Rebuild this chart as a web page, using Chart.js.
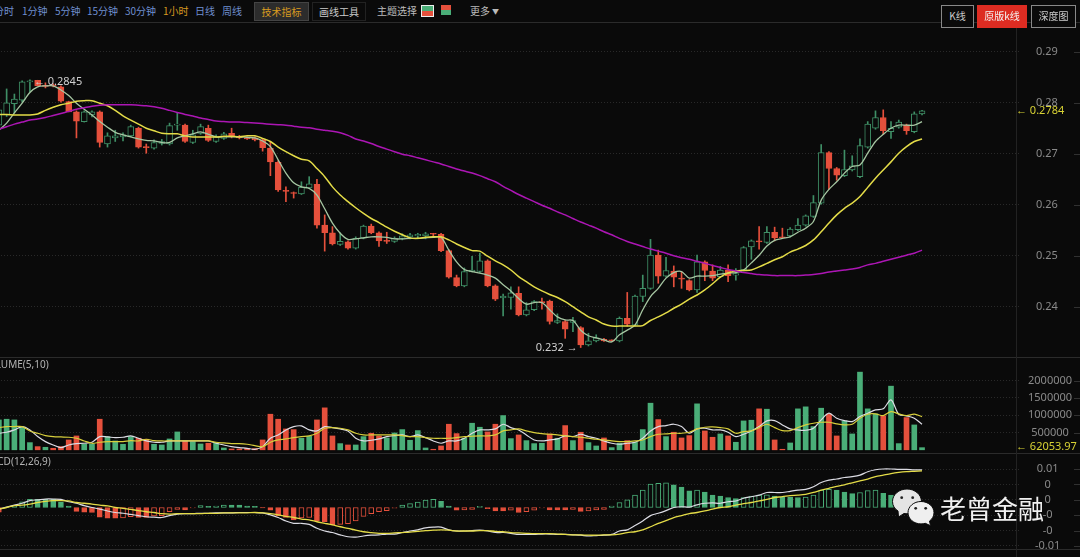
<!DOCTYPE html>
<html>
<head>
<meta charset="utf-8">
<title>K线</title>
<script src="https://cdn.jsdelivr.net/npm/chart.js@4/dist/chart.umd.min.js"></script>
<style>
html, body { margin: 0; padding: 0; width: 1080px; height: 557px; overflow: hidden; background: #0a0a0a; }
body { position: relative; font-family: "Noto Sans CJK SC", "Noto Sans", sans-serif; color: #bbb; }
canvas { position: absolute; left: -5px; }
.t { position: absolute; top: 4px; font-size: 10px; line-height: 14px; white-space: nowrap; color: #6f8fd0; }
.btn { position: absolute; box-sizing: border-box; font-size: 10px; text-align: center; white-space: nowrap; z-index: 6; }
.hline { position: absolute; left: 0; width: 1080px; height: 1px; background: #2b2b2b; }
.panel { position: absolute; font-size: 10px; line-height: 12px; color: #b5b5b5; font-family: "Noto Sans", sans-serif; white-space: nowrap; }
.mark { position: absolute; left: 940px; top: 491px; font-size: 26px; line-height: 34px; color: #f0f0f0; white-space: nowrap; z-index: 5; }
</style>
</head>
<body>
<div class="t" style="left:-6px">分时</div>
<div class="t" style="left:22px">1分钟</div>
<div class="t" style="left:55px">5分钟</div>
<div class="t" style="left:87px">15分钟</div>
<div class="t" style="left:125px">30分钟</div>
<div class="t" style="left:163px;color:#d89a20">1小时</div>
<div class="t" style="left:195px">日线</div>
<div class="t" style="left:222px">周线</div>
<div class="btn" style="left:254px;top:2px;width:55px;height:19px;line-height:17px;background:#2c2c2c;border:1px solid #444;color:#d89a20">技术指标</div>
<div class="btn" style="left:312px;top:2px;width:54px;height:19px;line-height:17px;border:1px solid #222;color:#ccc">画线工具</div>
<div class="t" style="left:377px;color:#bbb">主题选择</div>
<div style="position:absolute;left:421px;top:5px;width:11px;height:10px;border:1px solid #eee;background:linear-gradient(#4aae78 50%,#e5503c 50%)"></div>
<div style="position:absolute;left:441px;top:5px;width:10px;height:10px;background:linear-gradient(#e5503c 50%,#4aae78 50%)"></div>
<div class="t" style="left:470px;color:#bbb">更多</div>
<div class="t" style="left:492px;font-size:7px;color:#bbb">▼</div>
<div class="btn" style="left:941px;top:5px;width:33px;height:23px;line-height:20px;border:1px solid #888;color:#ccc;background:#0a0a0a">K线</div>
<div class="btn" style="left:977px;top:5px;width:50px;height:23px;line-height:22px;background:#dd2c22;color:#f4f4f4">原版k线</div>
<div class="btn" style="left:1031px;top:5px;width:45px;height:23px;line-height:20px;border:1px solid #888;color:#ccc;background:#0a0a0a">深度图</div>

<div class="hline" style="top:22px"></div>
<div class="hline" style="top:357px"></div>
<div class="hline" style="top:453px"></div>
<div class="hline" style="top:549px"></div>
<div style="position:absolute;left:1016px;top:22px;width:1px;height:535px;background:#222"></div>

<canvas id="mainChart" width="1085" height="334" style="top:23px"></canvas>
<canvas id="volChart" width="1085" height="95" style="top:358px"></canvas>
<canvas id="macdChart" width="1085" height="115" style="top:454px"></canvas>

<div class="panel" style="left:-18px;top:358px">VOLUME(5,10)</div>
<div class="panel" style="left:-18px;top:455px">MACD(12,26,9)</div>

<svg style="position:absolute;left:890px;top:485px;z-index:5" width="50" height="45" viewBox="890 485 50 45">
  <path d="M907 489c-8 0-14.500 5.500-14.500 12.500 0 4 2 7.300 5.500 9.500l.5 6 5.500-3.500c1 .2 2 .3 3 .3 8 0 14.500-5.500 14.500-12.300S915 489 907 489z" fill="#e4e4e4" stroke="#0a0a0a"/>
  <path d="M921 501.500c-7.200 0-13 5-13 11.200s5.800 11.200 13 11.200c1.500 0 3-.2 4.300-.6l5.200 2.400-1-4.600c2.700-2 4.500-5 4.500-8.400 0-6.200-5.800-11.200-13-11.200z" fill="#efefef" stroke="#0a0a0a"/>
  <circle cx="901.700" cy="497.700" r="1.400" fill="#222"/><circle cx="912.700" cy="497.700" r="1.400" fill="#222"/>
  <circle cx="915.700" cy="508.300" r="1.400" fill="#222"/><circle cx="925.700" cy="508.300" r="1.400" fill="#222"/>
</svg>
<div class="mark">老曾金融</div>

<script>
// hourly candles, last 12 slots of the axis stay empty
const EMPTY_SLOTS = 12;

const open = [
  .2756,.2776,.2798,.2805,.2841,.2844,.2833,.2835,.2831,.2802,
  .2782,.2763,.2776,.2782,.2719,.2731,.2733,.2735,.2750,.2714,
  .2711,.2720,.2719,.2756,.2756,.2722,.2740,.2750,.2724,.2730,
  .2740,.2733,.2731,.2731,.2727,.2711,.2683,.2628,.2624,.2621,
  .2633,.2640,.2560,.2545,.2522,.2527,.2515,.2535,.2558,.2545,
  .2530,.2528,.2534,.2537,.2539,.2539,.2543,.2542,.2510,.2457,
  .2441,.2468,.2469,.2490,.2441,.2417,.2418,.2426,.2384,.2394,
  .2409,.2411,.2369,.2371,.2369,.2359,.2325,.2333,.2336,.2334,
  .2333,.2377,.2364,.2420,.2436,.2501,.2460,.2470,.2456,.2451,
  .2433,.2488,.2470,.2459,.2472,.2462,.2472,.2517,.2528,.2526,
  .2546,.2537,.2539,.2551,.2560,.2577,.2603,.2702,.2671,.2657,
  .2668,.2655,.2713,.2750,.2771,.2743,.2752,.2756,.2743,.2778
];
const high = [
  .2795,.2827,.2817,.2843,.2845,.2844,.2839,.2837,.2833,.2803,
  .2784,.2784,.2784,.2784,.2741,.2746,.2741,.2756,.2752,.2719,
  .2727,.2728,.2760,.2780,.2758,.2746,.2758,.2756,.2737,.2742,
  .2750,.2736,.2733,.2733,.2729,.2724,.2686,.2635,.2625,.2645,
  .2655,.2650,.2580,.2557,.2545,.2529,.2537,.2560,.2562,.2547,
  .2546,.2537,.2543,.2544,.2544,.2546,.2544,.2544,.2512,.2462,
  .2476,.2499,.2505,.2492,.2443,.2425,.2439,.2439,.2408,.2412,
  .2417,.2413,.2386,.2373,.2379,.2361,.2348,.2345,.2338,.2335,
  .2380,.2428,.2423,.2462,.2532,.2511,.2497,.2480,.2469,.2453,
  .2501,.2490,.2482,.2479,.2482,.2475,.2518,.2531,.2557,.2557,
  .2556,.2554,.2555,.2573,.2580,.2618,.2718,.2704,.2673,.2707,
  .2696,.2729,.2763,.2784,.2786,.2763,.2766,.2758,.2782,.2785
];
const low = [
  .2750,.2773,.2780,.2801,.2821,.2833,.2829,.2831,.2801,.2782,
  .2731,.2762,.2772,.2713,.2713,.2724,.2725,.2733,.2711,.2701,
  .2709,.2717,.2717,.2746,.2722,.2720,.2738,.2724,.2722,.2728,
  .2731,.2729,.2728,.2725,.2705,.2657,.2626,.2606,.2613,.2620,
  .2632,.2554,.2509,.2521,.2520,.2513,.2513,.2533,.2543,.2518,
  .2524,.2526,.2531,.2533,.2533,.2533,.2537,.2508,.2456,.2439,
  .2439,.2468,.2467,.2439,.2412,.2382,.2395,.2382,.2382,.2392,
  .2395,.2366,.2367,.2338,.2351,.2320,.2323,.2331,.2332,.2332,
  .2331,.2362,.2362,.2410,.2434,.2446,.2458,.2439,.2436,.2431,
  .2428,.2451,.2451,.2457,.2449,.2452,.2470,.2493,.2513,.2524,
  .2529,.2535,.2537,.2549,.2558,.2575,.2601,.2630,.2648,.2655,
  .2666,.2653,.2711,.2748,.2738,.2730,.2750,.2738,.2741,.2776
];
const close = [
  .2786,.2800,.2807,.2841,.2843,.2833,.2832,.2833,.2803,.2782,
  .2764,.2782,.2782,.2722,.2735,.2735,.2737,.2753,.2713,.2712,
  .2722,.2724,.2755,.2758,.2724,.2737,.2753,.2726,.2733,.2739,
  .2735,.2731,.2729,.2727,.2712,.2684,.2629,.2626,.2622,.2634,
  .2641,.2560,.2545,.2523,.2528,.2515,.2534,.2558,.2545,.2529,
  .2528,.2534,.2539,.2541,.2542,.2543,.2542,.2510,.2458,.2441,
  .2469,.2472,.2490,.2441,.2415,.2421,.2427,.2384,.2394,.2410,
  .2408,.2371,.2373,.2356,.2373,.2325,.2333,.2339,.2333,.2333,
  .2377,.2366,.2421,.2436,.2501,.2460,.2471,.2458,.2454,.2433,
  .2488,.2471,.2456,.2472,.2461,.2465,.2516,.2529,.2527,.2546,
  .2535,.2535,.2552,.2560,.2578,.2604,.2702,.2671,.2658,.2669,
  .2676,.2716,.2758,.2771,.2745,.2750,.2762,.2745,.2778,.2784
];
const ma5 = [
  .2746,.2760,.2780,.2799,.2820,.2831,.2833,.2833,.2825,.2814,
  .2799,.2787,.2776,.2763,.2752,.2742,.2737,.2733,.2729,.2726,
  .2725,.2722,.2722,.2731,.2735,.2739,.2743,.2738,.2733,.2733,
  .2733,.2733,.2732,.2731,.2725,.2714,.2688,.2662,.2643,.2635,
  .2632,.2619,.2592,.2564,.2544,.2532,.2533,.2535,.2537,.2537,
  .2536,.2533,.2533,.2534,.2534,.2535,.2536,.2536,.2511,.2488,
  .2473,.2469,.2466,.2462,.2456,.2443,.2431,.2416,.2405,.2408,
  .2408,.2394,.2380,.2374,.2373,.2354,.2343,.2339,.2335,.2331,
  .2345,.2354,.2364,.2394,.2420,.2436,.2456,.2467,.2469,.2456,
  .2460,.2460,.2461,.2464,.2466,.2467,.2472,.2486,.2501,.2519,
  .2530,.2534,.2537,.2546,.2554,.2567,.2609,.2630,.2645,.2662,
  .2675,.2678,.2701,.2724,.2738,.2750,.2756,.2756,.2756,.2763
];
const ma10 = [
  .2777,.2777,.2776,.2776,.2776,.2778,.2785,.2791,.2796,.2799,
  .2803,.2804,.2804,.2799,.2794,.2785,.2774,.2766,.2758,.2750,
  .2745,.2740,.2739,.2739,.2735,.2733,.2733,.2733,.2733,.2734,
  .2734,.2733,.2735,.2735,.2730,.2724,.2713,.2704,.2696,.2689,
  .2686,.2671,.2655,.2635,.2619,.2606,.2594,.2583,.2573,.2565,
  .2556,.2548,.2541,.2535,.2534,.2536,.2537,.2537,.2531,.2523,
  .2516,.2510,.2509,.2499,.2490,.2482,.2472,.2459,.2449,.2439,
  .2431,.2424,.2418,.2410,.2400,.2390,.2380,.2374,.2366,.2362,
  .2362,.2362,.2362,.2363,.2373,.2380,.2388,.2397,.2405,.2415,
  .2423,.2433,.2445,.2458,.2466,.2470,.2471,.2472,.2478,.2485,
  .2492,.2498,.2507,.2513,.2520,.2531,.2547,.2564,.2580,.2593,
  .2603,.2616,.2634,.2652,.2668,.2684,.2701,.2714,.2724,.2729
];
const ma30 = [
  .2748,.2753,.2758,.2762,.2766,.2768,.2771,.2775,.2779,.2783,
  .2787,.2790,.2793,.2795,.2796,.2796,.2796,.2796,.2795,.2794,
  .2792,.2789,.2785,.2781,.2777,.2774,.2770,.2767,.2764,.2763,
  .2762,.2762,.2761,.2760,.2759,.2758,.2757,.2756,.2754,.2752,
  .2751,.2748,.2746,.2744,.2741,.2736,.2729,.2725,.2720,.2714,
  .2709,.2704,.2699,.2696,.2692,.2688,.2684,.2680,.2675,.2670,
  .2666,.2662,.2657,.2651,.2645,.2636,.2628,.2620,.2613,.2606,
  .2599,.2593,.2586,.2580,.2573,.2566,.2560,.2554,.2547,.2541,
  .2534,.2528,.2523,.2518,.2513,.2509,.2505,.2500,.2496,.2493,
  .2489,.2485,.2481,.2477,.2473,.2470,.2467,.2465,.2463,.2462,
  .2461,.2461,.2461,.2461,.2462,.2463,.2465,.2468,.2470,.2472,
  .2474,.2477,.2482,.2485,.2489,.2493,.2497,.2501,.2505,.2511
];
const volume = [
  865000,885000,865000,653000,208000,92000,73000,44000,92000,285000,
  401000,160000,160000,885000,382000,256000,160000,382000,334000,305000,
  160000,140000,314000,517000,256000,237000,169000,189000,208000,53000,
  24000,24000,44000,34000,285000,1030000,885000,604000,585000,334000,
  392000,865000,1214000,401000,179000,140000,140000,382000,479000,401000,
  343000,488000,585000,276000,556000,53000,15000,111000,740000,469000,
  334000,769000,653000,517000,740000,991000,324000,430000,266000,179000,
  189000,459000,334000,701000,266000,508000,208000,111000,343000,63000,
  189000,266000,218000,585000,1349000,875000,382000,508000,343000,411000,
  1330000,546000,363000,459000,401000,218000,836000,856000,1185000,1175000,
  285000,15000,198000,1185000,1243000,672000,1204000,1030000,401000,836000,
  459000,2248000,1185000,1040000,982000,1842000,179000,933000,720000,62053.97
];
const volMa5 = [
  479000,508000,575000,672000,575000,382000,237000,140000,63000,140000,
  179000,189000,218000,382000,372000,353000,363000,401000,334000,256000,
  218000,218000,256000,256000,256000,256000,256000,256000,189000,140000,
  92000,63000,44000,15000,92000,334000,430000,575000,672000,691000,
  575000,546000,672000,643000,604000,546000,334000,256000,276000,314000,
  382000,411000,430000,382000,430000,353000,256000,189000,256000,256000,
  334000,479000,575000,575000,604000,740000,643000,575000,430000,285000,
  256000,285000,314000,401000,382000,450000,382000,334000,256000,189000,
  160000,189000,218000,334000,546000,672000,701000,740000,672000,479000,
  604000,624000,575000,575000,508000,382000,450000,546000,672000,836000,
  846000,720000,604000,575000,566000,624000,865000,1059000,914000,846000,
  817000,962000,1059000,1156000,1185000,1446000,1030000,982000,914000,740000
];
const volMa10 = [
  643000,672000,672000,672000,546000,479000,411000,382000,372000,363000,
  334000,256000,189000,218000,237000,237000,237000,266000,256000,305000,
  266000,256000,256000,256000,256000,256000,256000,256000,218000,198000,
  179000,179000,160000,121000,92000,218000,285000,314000,353000,382000,
  401000,479000,624000,643000,624000,575000,479000,430000,430000,430000,
  430000,430000,411000,382000,382000,353000,334000,334000,334000,353000,
  382000,392000,401000,401000,430000,546000,575000,604000,546000,498000,
  469000,450000,430000,401000,382000,363000,334000,305000,285000,256000,
  237000,237000,256000,285000,382000,450000,459000,479000,479000,508000,
  604000,653000,662000,643000,604000,479000,527000,546000,643000,740000,
  643000,556000,556000,643000,720000,769000,798000,798000,749000,720000,
  740000,914000,1030000,1040000,991000,1107000,1040000,991000,1030000,962000
];
const dif = [
  -.0004,.0001,.0006,.0011,.0018,.0020,.0022,.0022,.0021,.0015,
  .0011,.0005,0,-.0004,-.0009,-.0013,-.0015,-.0018,-.0021,-.0024,
  -.0025,-.0026,-.0021,-.0017,-.0016,-.0016,-.0015,-.0015,-.0014,-.0014,
  -.0014,-.0013,-.0013,-.0013,-.0014,-.0019,-.0026,-.0035,-.0041,-.0041,
  -.0044,-.0054,-.0061,-.0065,-.0071,-.0076,-.0077,-.0074,-.0072,-.0071,
  -.0069,-.0069,-.0065,-.0061,-.0058,-.0053,-.0051,-.0051,-.0058,-.0061,
  -.0061,-.0060,-.0059,-.0061,-.0065,-.0065,-.0067,-.0070,-.0070,-.0070,
  -.0069,-.0069,-.0070,-.0070,-.0071,-.0072,-.0074,-.0073,-.0072,-.0070,
  -.0061,-.0058,-.0047,-.0035,-.0021,-.0015,-.0008,0,.0002,.0001,
  .0007,.0011,.0012,.0011,.0015,.0017,.0024,.0028,.0032,.0039,
  .0039,.0039,.0042,.0045,.0047,.0054,.0065,.0071,.0074,.0078,
  .0080,.0084,.0093,.0098,.0100,.0100,.0099,.0099,.0098,.0098
];
const dea = [
  -.0004,0,.0005,.0006,.0009,.0013,.0016,.0018,.0018,.0017,
  .0013,.0011,.0009,.0006,.0004,0,-.0002,-.0005,-.0008,-.0011,
  -.0013,-.0016,-.0017,-.0016,-.0016,-.0016,-.0016,-.0015,-.0015,-.0014,
  -.0014,-.0014,-.0014,-.0013,-.0014,-.0016,-.0019,-.0023,-.0026,-.0030,
  -.0032,-.0037,-.0041,-.0045,-.0050,-.0054,-.0059,-.0063,-.0065,-.0067,
  -.0067,-.0066,-.0065,-.0064,-.0062,-.0060,-.0059,-.0058,-.0059,-.0061,
  -.0061,-.0061,-.0060,-.0060,-.0062,-.0063,-.0065,-.0066,-.0067,-.0068,
  -.0068,-.0068,-.0069,-.0070,-.0071,-.0071,-.0072,-.0072,-.0071,-.0071,
  -.0069,-.0065,-.0063,-.0058,-.0050,-.0041,-.0034,-.0026,-.0021,-.0016,
  -.0013,-.0009,-.0004,0,.0002,.0006,.0010,.0013,.0017,.0021,
  .0026,.0028,.0031,.0032,.0034,.0039,.0045,.0050,.0055,.0059,
  .0064,.0069,.0074,.0080,.0084,.0088,.0091,.0093,.0094,.0095
];
const macdHist = [
  -.0012,.0001,.0004,.0015,.0021,.0021,.0021,.0021,.0014,.0004,
  -.0010,-.0012,-.0013,-.0025,-.0028,-.0028,-.0027,-.0024,-.0026,-.0026,
  -.0022,-.0021,-.0011,-.0005,-.0006,-.0001,.0005,.0003,.0004,.0006,
  .0006,.0006,.0004,.0003,-.0001,-.0007,-.0021,-.0026,-.0032,-.0027,
  -.0026,-.0035,-.0037,-.0045,-.0044,-.0042,-.0035,-.0023,-.0016,-.0011,
  -.0008,-.0002,.0006,.0010,.0014,.0019,.0021,.0016,.0004,-.0007,
  -.0006,-.0005,.0003,-.0003,-.0009,-.0009,-.0007,-.0013,-.0011,-.0007,
  -.0001,-.0006,-.0006,-.0006,-.0005,-.0010,-.0009,-.0006,-.0005,.0004,
  .0013,.0020,.0032,.0045,.0061,.0063,.0064,.0059,.0053,.0043,
  .0045,.0040,.0032,.0030,.0026,.0023,.0026,.0030,.0032,.0033,
  .0030,.0027,.0027,.0026,.0027,.0032,.0045,.0047,.0045,.0040,
  .0036,.0039,.0044,.0045,.0037,.0032,.0022,.0015,.0012,.0008
];
const greenVolumeDoji = [6, 50, 70, 79];

const priceTicks = [.29, .28, .27, .26, .25, .24];
const volumeTicks = [2000000, 1500000, 1000000, 500000];
const macdTicks = [.01, .006, .002, -.002, -.006, -.01];
const macdTickLabels = ['0.01', '0', '0', '-0', '-0', '-0.01'];
const xTickIndex = [3, 15, 27, 39, 51, 63, 75, 87, 99];
const xTickText = ['3月2日', '12:00', '3月3日', '12:00', '3月4日', '12:00', '3月5日', '12:00', '3月6日'];

const RED = '#e5503c', GREEN_LINE = '#3f8f66', GREEN_BAR = '#4aae78';
const BG = '#0a0a0a', YELLOW = '#e4dc48', TEXT = '#8a8a8a';
const isUp = i => close[i] >= open[i];

const labels = Array.from({length: open.length + EMPTY_SLOTS}, (_, i) => i);
const font = {family: '"Noto Sans", sans-serif', size: 11};

function line(data, color, width) {
  return {type: 'line', data: data, borderColor: color, borderWidth: width || 1.2, pointRadius: 0, tension: 0.3, order: 0};
}

// tick padding also insets the plot area, so it gets zeroed after the fit
function noInset(s) {
  s.paddingTop = s.paddingBottom = s.paddingLeft = s.paddingRight = 0;
}

function yAxis(min, max, ticks, pad, labelOf) {
  return {
    position: 'right', min: min, max: max,
    afterBuildTicks: s => { s.ticks = ticks.map(v => ({value: v})); },
    afterFit: s => { s.width = 61; noInset(s); },
    grid: {color: 'rgba(255,255,255,0.13)', drawTicks: false},
    border: {display: false, dash: [1, 2]},
    ticks: {
      color: TEXT, font: font, padding: pad, crossAlign: 'center',
      callback: labelOf || (v => String(v))
    }
  };
}

function xAxis(show) {
  return {
    display: show, offset: true,
    grid: {display: false}, border: {display: false},
    afterFit: s => { if (show) s.height = 20; noInset(s); },
    ticks: {
      color: TEXT, font: {family: '"Noto Sans CJK SC", sans-serif', size: 10}, padding: 3,
      autoSkip: false, maxRotation: 0, minRotation: 0,
      callback: (v, i) => { const k = xTickIndex.indexOf(i); return k < 0 ? '' : xTickText[k]; }
    }
  };
}

// short right edge marks and the small value notes, placed through the scales
const rightMarks = {
  id: 'rightMarks',
  afterDraw(chart, args, opts) {
    const c = chart.ctx, y = chart.scales.y, x = chart.scales.x;
    c.save();
    c.fillStyle = 'rgba(255,255,255,0.16)';
    y.ticks.forEach(t => c.fillRect(1079, Math.round(y.getPixelForValue(t.value)), 6, 1));
    c.font = '11px "Noto Sans", sans-serif';
    c.textBaseline = 'middle';
    (opts.notes || []).forEach(n => {
      c.fillStyle = n.color;
      c.textAlign = n.align;
      c.fillText(n.text, n.atAxis ? 1021 : x.getPixelForValue(n.index) + n.dx, y.getPixelForValue(n.value));
    });
    c.restore();
  }
};

const hiIndex = high.indexOf(Math.max(...high));
const loIndex = low.indexOf(Math.min(...low));
const last = open.length - 1;

new Chart(document.getElementById('mainChart'), {
  type: 'bar',
  data: {
    labels: labels,
    datasets: [
      {data: low.map((v, i) => [v, high[i]]), barThickness: 1, grouped: false, order: 3,
       backgroundColor: low.map((v, i) => isUp(i) ? GREEN_LINE : RED)},
      {data: open.map((v, i) => [v, close[i]]), barThickness: 6, grouped: false, order: 2, minBarLength: 1,
       borderSkipped: false, borderWidth: 1,
       borderColor: open.map((v, i) => isUp(i) ? GREEN_LINE : RED),
       backgroundColor: open.map((v, i) => isUp(i) ? BG : RED)},
      line(ma30, '#ac16b4', 1.5),
      line(ma10, YELLOW, 1.5),
      line(ma5, '#a6c6a2', 1.3)
    ]
  },
  options: {
    responsive: false, animation: false, devicePixelRatio: 1,
    layout: {padding: 0},
    plugins: {legend: {display: false}, tooltip: {enabled: false},
      rightMarks: {notes: [
        {index: hiIndex, value: .2841, dx: 4, align: 'left', color: '#cfcfcf', text: '← ' + high[hiIndex]},
        {index: loIndex, value: low[loIndex], dx: -3, align: 'right', color: '#cfcfcf', text: low[loIndex].toFixed(3) + ' →'},
        {atAxis: true, value: close[last], align: 'left', color: '#d8d234', text: '← ' + close[last]}
      ]}},
    scales: {x: xAxis(false), y: yAxis(.23014, .29563, priceTicks, 17)}
  },
  plugins: [rightMarks]
});

new Chart(document.getElementById('volChart'), {
  type: 'bar',
  data: {
    labels: labels,
    datasets: [
      {data: volume, barThickness: 5, grouped: false, order: 2,
       backgroundColor: volume.map((v, i) => (isUp(i) || greenVolumeDoji.includes(i)) ? GREEN_BAR : RED)},
      line(volMa10, '#d8cf3c', 1.2),
      line(volMa5, '#dcdce4', 1.2)
    ]
  },
  options: {
    responsive: false, animation: false, devicePixelRatio: 1,
    layout: {padding: 0},
    plugins: {legend: {display: false}, tooltip: {enabled: false},
      rightMarks: {notes: [
        {atAxis: true, value: volume[last] + 30000, align: 'left', color: '#d8d234', text: '← ' + volume[last]}
      ]}},
    scales: {x: xAxis(false), y: yAxis(-92600, 2657000, volumeTicks, 9)}
  },
  plugins: [rightMarks]
});

new Chart(document.getElementById('macdChart'), {
  type: 'bar',
  data: {
    labels: labels,
    datasets: [
      {data: macdHist, barThickness: 5, grouped: false, order: 2, borderWidth: 1, borderSkipped: false,
       borderColor: macdHist.map(v => v >= 0 ? GREEN_BAR : RED),
       backgroundColor: macdHist.map((v, i) => (i > 0 && v > macdHist[i - 1]) ? BG : (v >= 0 ? GREEN_BAR : RED))},
      line(dea, YELLOW, 1.3),
      line(dif, '#dcdce4', 1.2)
    ]
  },
  options: {
    responsive: false, animation: false, devicePixelRatio: 1,
    layout: {padding: 0},
    plugins: {legend: {display: false}, tooltip: {enabled: false}, rightMarks: {notes: []}},
    scales: {
      x: xAxis(true),
      y: yAxis(-.01078, .0139, macdTicks, 16, v => macdTickLabels[macdTicks.indexOf(v)])
    }
  },
  plugins: [rightMarks]
});
</script>
</body>
</html>
